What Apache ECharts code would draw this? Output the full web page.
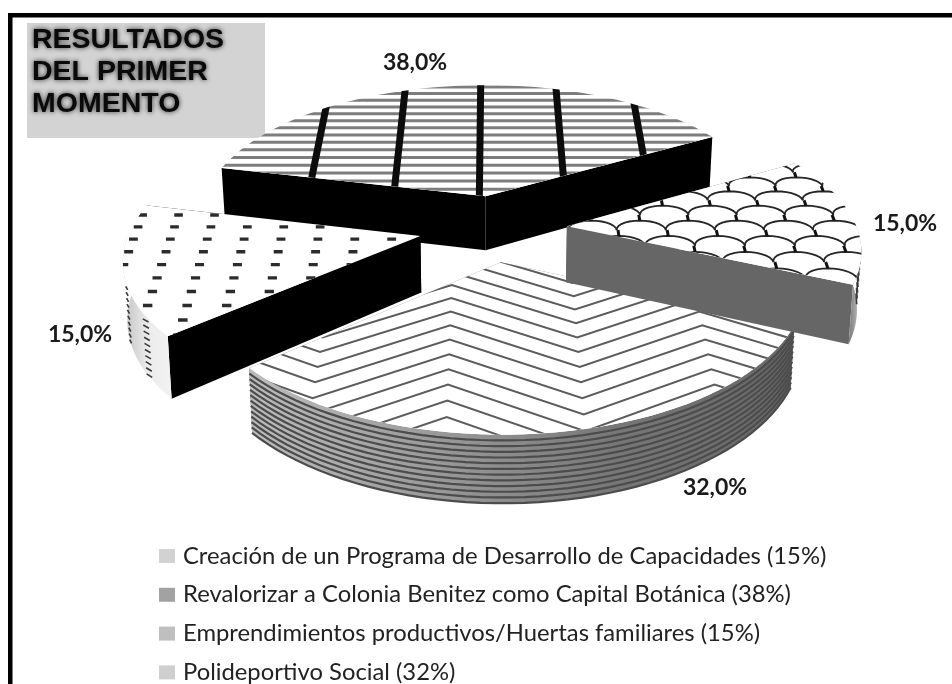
<!DOCTYPE html>
<html>
<head>
<meta charset="utf-8">
<style>
  html, body { margin: 0; padding: 0; background: #fff; }
  #chart { width: 952px; height: 684px; }
</style>
</head>
<body>
<div id="chart"></div>
<script src="https://cdn.jsdelivr.net/npm/echarts@6/dist/echarts.min.js"></script>
<script>
const categories = [
  'Creación de un Programa de Desarrollo de Capacidades',
  'Revalorizar a Colonia Benitez como Capital Botánica',
  'Emprendimientos productivos/Huertas familiares',
  'Polideportivo Social'
]
const values = [15, 38, 15, 32]
const titleLines = ['RESULTADOS', 'DEL PRIMER', 'MOMENTO']
const legendColors = ['#d2d2d2', '#a2a2a2', '#bfbfbf', '#cfcfcf']
const labelAt = [[80, 335], [415, 63], [905, 224], [715, 488]]
const drawOrder = [4, 2, 5, 3]
const sliceShift = [0, 0.02, 0.021, 0]

// pie laid flat, seen through a perspective: u to the right, v away from the viewer
const view = { x0: 490, y0: 228, a: 290, b: 136, k: 0.147, depth: 56, explode: 0.245, rotation: 229.2 }

const project = (u, v, drop = 0) => {
  const s = 1 / (1 + view.k * v)
  return [view.x0 + view.a * u * s * (1 - 0.012 * drop), view.y0 - view.b * v * s + drop * view.depth * s]
}
const rad = (d) => (d * Math.PI) / 180

const total = values.reduce((a, b) => a + b, 0)
let cursor = view.rotation
const sectors = values.map((v, i) => {
  const start = cursor
  const end = start + (v / total) * 360
  cursor = end >= 360 ? end - 360 : end
  const mid = rad((start + end) / 2)
  return { start, end, au: view.explode * Math.sin(mid) + sliceShift[i], av: view.explode * Math.cos(mid) }
})

const rimPoint = (sec, deg, drop = 0) =>
  project(sec.au + Math.sin(rad(deg)), sec.av + Math.cos(rad(deg)), drop)

const arcPoints = (sec, from, to, drop = 0) => {
  const pts = []
  for (let i = 0; i <= 48; i++) pts.push(rimPoint(sec, from + ((to - from) * i) / 48, drop))
  return pts
}

const line = (pts, stroke, lineWidth) => ({
  type: 'polyline',
  shape: { points: pts },
  style: { stroke, lineWidth, fill: null }
})

// patterns of the top faces, all in world coordinates
const patterns = [
  // dashes
  () => {
    const out = []
    for (let m = -9; m <= 3; m++) {
      for (let n = -1; n <= 9; n++) {
        const u = -0.335 - 0.1257 * n
        const v = 0.008 + 0.089 * m
        out.push(line([project(u - 0.015, v), project(u + 0.015, v)], '#2b2b2b', 3.4))
      }
    }
    return out
  },
  // horizontal lines with heavy bars
  () => {
    const out = []
    for (let v = 0.1; v < 1.4; v += 0.066) {
      out.push(line([project(-1.4, v), project(1.4, v)], '#7d7d7d', 3))
    }
    for (let n = 0; n < 5; n++) {
      const u = -0.65 + 0.306 * n
      out.push(line([project(u, 0.1), project(u, 1.4)], '#0c0c0c', 7))
    }
    return out
  },
  // fish scales
  () => {
    const out = []
    const du = 0.169
    const dv = 0.113
    const h = 0.07
    for (let r = -1; r <= 8; r++) {
      const v = -0.241 + dv * r
      const off = Math.abs(r) % 2 === 0 ? 0.943 : 0.863
      for (let i = -5; i <= 4; i++) {
        const u = off + du * i
        const dome = []
        for (let t = 0; t <= 14; t++) {
          const th = (Math.PI * t) / 14
          dome.push(project(u + (du * (1 - Math.cos(th))) / 2, v + h * Math.sin(th)))
        }
        out.push(line(dome, '#262626', 1.8))
        out.push(line([project(u + du / 2, v + h), project(u + du / 2, v + dv)], '#111', 3))
      }
    }
    return out
  },
  // chevrons
  () => {
    const out = []
    for (let n = -4; n <= 13; n++) {
      const high = -0.395 - 0.0843 * n
      const pts = []
      for (let i = -4; i <= 5; i++) {
        const v = Math.abs(i) % 2 === 0 ? high : high - 0.24
        pts.push(project(-0.124 + 0.393 * i, v))
      }
      out.push(line(pts, '#5c5c5c', 2))
    }
    return out
  }
]

const gradX = (x, x2, stops) => ({
  type: 'linear', x, y: 0, x2, y2: 0, global: true,
  colorStops: stops.map((c, i) => ({ offset: i / (stops.length - 1), color: c }))
})

const sideStyle = [
  { radial: '#000', rim: gradX(124, 172, ['#c4c4c4', '#ececec', '#f2f2f2']), marks: [238, 251] },
  { radial: '#000', rim: '#000', marks: [] },
  { radial: '#666', rim: gradX(842, 862, ['#5e5e5e', '#8e8e8e', '#d0d0d0']), marks: [97] },
  { radial: '#666', rim: gradX(250, 800, ['#bcbcbc', '#9a9a9a', '#777', '#666']), marks: [] }
]

const renderSlice = (params) => {
  const i = params.seriesIndex
  const sec = sectors[i]
  const side = sideStyle[i]
  const children = []

  const apexTop = project(sec.au, sec.av)
  const apexLow = project(sec.au, sec.av, 1)

  // radial walls
  ;[sec.start, sec.end].forEach((deg) => {
    children.push({
      type: 'polygon',
      shape: { points: [apexTop, rimPoint(sec, deg), rimPoint(sec, deg, 1), apexLow] },
      style: { fill: side.radial }
    })
  })

  // curved wall, only the part that faces the viewer
  const from = Math.max(sec.start, 90)
  const to = Math.min(sec.end, 270)
  if (to > from) {
    const top = arcPoints(sec, from, to)
    const low = arcPoints(sec, from, to, 1).reverse()
    children.push({ type: 'polygon', shape: { points: top.concat(low) }, style: { fill: side.rim } })
    if (i === 3) {
      for (let t = 1; t <= 12; t++) {
        children.push(line(arcPoints(sec, from, to, t / 12), '#4c4c4c', 2.2))
      }
    }
    side.marks.forEach((deg) => {
      for (let t = 0.08; t < 1; t += 0.1) {
        children.push(line([rimPoint(sec, deg - 1.4, t - 0.03), rimPoint(sec, deg + 1.4, t + 0.03)], '#3a3a3a', 1.6))
      }
    })
  }

  // top face
  const topFace = [apexTop].concat(arcPoints(sec, sec.start, sec.end))
  children.push({ type: 'polygon', shape: { points: topFace }, style: { fill: '#fff' } })
  children.push({
    type: 'group',
    clipPath: { type: 'polygon', shape: { points: topFace } },
    children: patterns[i]()
  })

  children.push({
    type: 'text',
    x: labelAt[i][0],
    y: labelAt[i][1],
    style: {
      text: values[i].toFixed(1).replace('.', ',') + '%',
      font: 'bold 23px Lato',
      fill: '#1a1a1a',
      align: 'center',
      verticalAlign: 'middle'
    }
  })

  return { type: 'group', children }
}

const legendNames = categories.map((c, i) => `${c} (${values[i]}%)`)

const chart = echarts.init(document.getElementById('chart'), null, { renderer: 'canvas' })

chart.setOption({
  backgroundColor: '#fff',
  animation: false,
  legend: {
    orient: 'vertical',
    left: 154,
    top: 539,
    height: 400,
    itemWidth: 16,
    itemHeight: 14,
    itemGap: 14.8,
    selectedMode: false,
    formatter: (name) => `{t|${name}}`,
    textStyle: {
      rich: {
        t: { fontFamily: 'Lato', fontSize: 23.8, lineHeight: 26, color: '#222', padding: [0, 0, 0, 3] }
      }
    },
    data: legendNames.map((name, i) => ({
      name,
      icon: 'rect',
      itemStyle: { color: legendColors[i] }
    }))
  },
  graphic: [
    { type: 'rect', shape: { x: 8, y: 13, width: 944, height: 4.5 }, style: { fill: '#000' } },
    { type: 'rect', shape: { x: 8, y: 13, width: 4.5, height: 671 }, style: { fill: '#000' } },
    { type: 'rect', shape: { x: 27, y: 23, width: 238, height: 115 }, style: { fill: '#d3d3d3' } },
    {
      type: 'text',
      x: 32,
      y: 24,
      style: {
        text: titleLines.join('\n'),
        font: 'bold 28.5px "Liberation Sans"',
        lineHeight: 32,
        fill: '#0a0a0a',
        textShadowColor: 'rgba(0,0,0,0.8)',
        textShadowBlur: 5,
        textShadowOffsetX: 0,
        textShadowOffsetY: 0
      }
    }
  ],
  series: values.map((v, i) => ({
    type: 'custom',
    name: legendNames[i],
    coordinateSystem: 'none',
    z: drawOrder[i],
    silent: true,
    renderItem: renderSlice,
    data: [{ value: v, name: legendNames[i] }]
  }))
})

window.addEventListener('resize', () => {
  chart.resize()
})
</script>
</body>
</html>
